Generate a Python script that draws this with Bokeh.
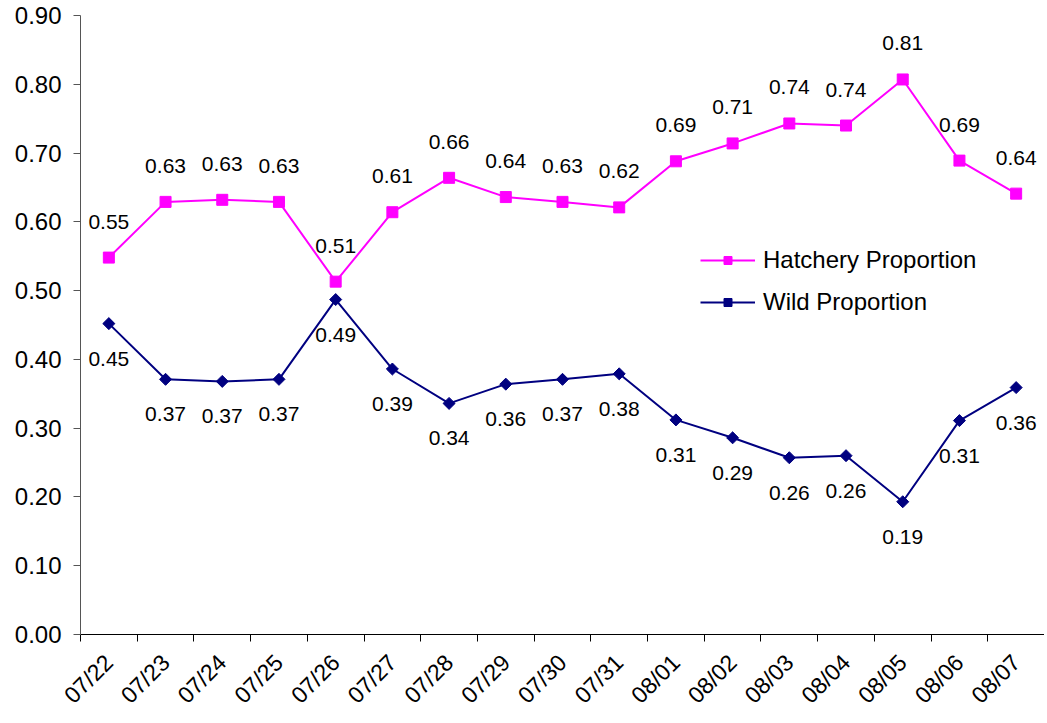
import math
from bokeh.plotting import figure
from bokeh.models import (ColumnDataSource, Range1d, FixedTicker, NumeralTickFormatter,
                          Legend, LegendItem)
from bokeh.core.properties import value
from bokeh.embed import file_html
from bokeh.resources import INLINE

dates = ["07/22", "07/23", "07/24", "07/25", "07/26", "07/27", "07/28", "07/29", "07/30",
         "07/31", "08/01", "08/02", "08/03", "08/04", "08/05", "08/06", "08/07"]
hatchery = [0.548, 0.629, 0.632, 0.629, 0.513, 0.614, 0.664, 0.636, 0.629,
            0.621, 0.688, 0.714, 0.743, 0.740, 0.807, 0.689, 0.641]
wild = [0.452, 0.371, 0.368, 0.371, 0.487, 0.386, 0.336, 0.364, 0.371,
        0.379, 0.312, 0.286, 0.257, 0.260, 0.193, 0.311, 0.359]
y_ticks = [0.0, 0.1, 0.2, 0.3, 0.4, 0.5, 0.6, 0.7, 0.8, 0.9]

FONT = "Liberation Sans"
MAGENTA = "#FF00FF"
NAVY = "#000080"

xs = list(range(1, len(dates) + 1))
src = ColumnDataSource(dict(
    x=xs, h=hatchery, w=wild,
    ht=[f"{v:.2f}" for v in hatchery],
    wt=[f"{v:.2f}" for v in wild],
))

p = figure(width=1044, height=720, output_backend="svg", toolbar_location=None,
           x_range=Range1d(0.5, len(dates) + 0.5), y_range=Range1d(0, 0.9),
           min_border_left=80, min_border_right=0, min_border_top=15, min_border_bottom=86)
p.outline_line_color = None
p.xgrid.visible = False
p.ygrid.visible = False
p.background_fill_color = "white"
p.border_fill_color = "white"

hl = p.line("x", "h", source=src, line_color=MAGENTA, line_width=2)
hs = p.scatter("x", "h", source=src, marker="square", size=11,
               fill_color=MAGENTA, line_color=MAGENTA)
wl = p.line("x", "w", source=src, line_color=NAVY, line_width=2)
ws = p.scatter("x", "w", source=src, marker="square", angle=math.pi / 4, size=8.5,
               fill_color=NAVY, line_color=NAVY)

p.text("x", "h", text="ht", source=src, text_align="center", text_baseline="middle",
       y_offset=-36, text_font=value(FONT), text_font_size="21px", text_color="black")
p.text("x", "w", text="wt", source=src, text_align="center", text_baseline="middle",
       y_offset=35, text_font=value(FONT), text_font_size="21px", text_color="black")

# x axis
xa = p.xaxis[0]
xa.ticker = FixedTicker(ticks=xs, minor_ticks=[x - 0.5 for x in xs] + [xs[-1] + 0.5])
xa.major_label_overrides = {x: d for x, d in zip(xs, dates)}
xa.major_tick_in = 0
xa.major_tick_out = 0
xa.minor_tick_in = 0
xa.minor_tick_out = 7
xa.minor_tick_line_color = "black"
xa.axis_line_color = "black"
xa.major_label_orientation = math.pi / 4
xa.major_label_text_font = FONT
xa.major_label_text_font_size = "23px"
xa.major_label_text_color = "black"
xa.major_label_standoff = 17

# y axis
ya = p.yaxis[0]
ya.ticker = FixedTicker(ticks=y_ticks)
ya.formatter = NumeralTickFormatter(format="0.00")
ya.major_tick_in = 0
ya.major_tick_out = 7
ya.minor_tick_line_color = None
ya.major_tick_line_color = "#555555"
ya.axis_line_color = "#555555"
ya.major_label_text_font = FONT
ya.major_label_text_font_size = "24px"
ya.major_label_text_color = "black"
ya.major_label_standoff = 12

legend = Legend(items=[LegendItem(label="Hatchery Proportion", renderers=[hl, hs]),
                       LegendItem(label="Wild Proportion", renderers=[wl, ws])],
                location=(620, 318), orientation="vertical")
legend.border_line_color = None
legend.background_fill_alpha = 0
legend.padding = 0
legend.margin = 0
legend.spacing = 14
legend.glyph_width = 55
legend.glyph_height = 20
legend.label_standoff = 8
legend.label_text_font = FONT
legend.label_text_font_size = "24px"
legend.label_text_color = "black"
p.add_layout(legend, "center")

open("out.html", "w").write(file_html(p, INLINE))
